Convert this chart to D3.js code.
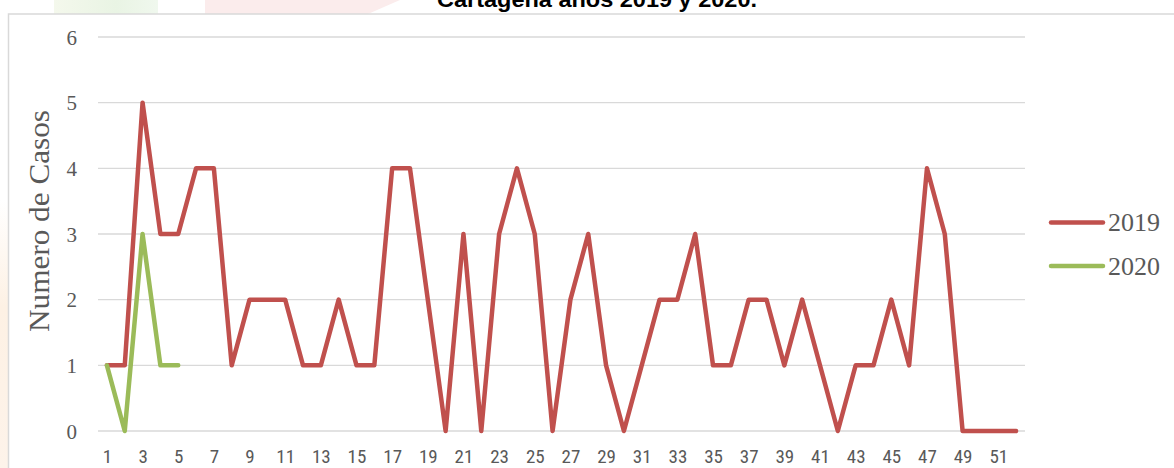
<!DOCTYPE html>
<html>
<head>
<meta charset="utf-8">
<script src="https://cdn.jsdelivr.net/npm/d3@7"></script>
<style>
  html, body { margin: 0; padding: 0; background: #ffffff; }
  svg { display: block; }
</style>
</head>
<body>
<div id="chart"></div>
<script>
// ---- data ----
const weeks = d3.range(1, 53);
const xTickLabels = d3.range(1, 52, 2);
const yTicks = [0, 1, 2, 3, 4, 5, 6];
const seriesNames = ["2019", "2020"];
const values2019 = [1, 1, 5, 3, 3, 4, 4, 1, 2, 2, 2, 1, 1, 2, 1, 1, 4, 4, 2, 0,
                    3, 0, 3, 4, 3, 0, 2, 3, 1, 0, 1, 2, 2, 3, 1, 1, 2, 2, 1, 2,
                    1, 0, 1, 1, 2, 1, 4, 3, 0, 0, 0, 0];
const values2020 = [1, 0, 3, 1, 1];
const colors = ["#c0504d", "#9bbb59"];
const titleText = "Cartagena años 2019 y 2020.";
const yTitle = "Numero de Casos";

const W = 1174, H = 468;
const svg = d3.select("#chart").append("svg").attr("width", W).attr("height", H);

// faint background watermark from the source document
const defs = svg.append("defs");
const gG = defs.append("linearGradient").attr("id", "gG");
gG.append("stop").attr("offset", "0").attr("stop-color", "#f4f8ec");
gG.append("stop").attr("offset", "0.6").attr("stop-color", "#e9f4e4");
gG.append("stop").attr("offset", "1").attr("stop-color", "#f0f8ee");
svg.append("rect").attr("x", 54).attr("y", 0).attr("width", 104).attr("height", 14).attr("fill", "url(#gG)");
svg.append("path").attr("d", "M205,0 L400,0 L368,14 L205,14 Z").attr("fill", "#fbecec");
const gO = defs.append("linearGradient").attr("id", "gO").attr("x1", 0).attr("y1", 0).attr("x2", 0).attr("y2", 1);
gO.append("stop").attr("offset", "0").attr("stop-color", "#ffffff");
gO.append("stop").attr("offset", "0.4").attr("stop-color", "#fdf1e4");
gO.append("stop").attr("offset", "1").attr("stop-color", "#fdf3ea");
svg.append("rect").attr("x", 0).attr("y", 200).attr("width", 8).attr("height", 268).attr("fill", "url(#gO)");

// chart frame
svg.append("rect").attr("x", 8.5).attr("y", 14).attr("width", 1200).attr("height", 500)
  .attr("fill", "#ffffff").attr("stroke", "#d9d9d9").attr("stroke-width", 1.5);

// title (clipped at top, as in the reference)
svg.append("text").attr("x", 597).attr("y", 7).attr("text-anchor", "middle")
  .attr("font-family", "'Liberation Sans', Arial, sans-serif").attr("font-weight", "bold")
  .attr("font-size", 22).attr("fill", "#000").attr("textLength", 320).attr("lengthAdjust", "spacingAndGlyphs")
  .text(titleText);

// scales
const x = d3.scalePoint().domain(weeks).range([98, 1025]).padding(0.5);
const y = d3.scaleLinear().domain([0, 6]).range([431, 37]);

// gridlines
svg.append("g").selectAll("line").data(yTicks).join("line")
  .attr("x1", 98).attr("x2", 1025)
  .attr("y1", d => y(d)).attr("y2", d => y(d))
  .attr("stroke", "#d9d9d9").attr("stroke-width", 1.3);

// y axis labels
const yAxis = d3.axisLeft(y).tickValues(yTicks).tickFormat(d3.format("d")).tickSize(0).tickPadding(0);
const gy = svg.append("g").attr("transform", "translate(77,0)").call(yAxis);
gy.select(".domain").remove();
gy.selectAll("text").attr("font-family", "'Liberation Serif', 'DejaVu Serif', serif")
  .attr("font-size", 21).attr("fill", "#595959").attr("dy", "0.34em");

// x axis labels
const xAxis = d3.axisBottom(x).tickValues(xTickLabels).tickSize(0).tickPadding(0);
const gx = svg.append("g").attr("transform", "translate(0,449)").call(xAxis);
gx.select(".domain").remove();
gx.selectAll("text").attr("font-family", "'Liberation Sans Narrow', 'Roboto Condensed', 'Liberation Sans', sans-serif")
  .attr("font-size", 19).attr("fill", "#595959").attr("dy", "0.72em");

// y title
svg.append("text").attr("transform", "translate(49,221) rotate(-90)").attr("text-anchor", "middle")
  .attr("font-family", "'Liberation Serif', 'DejaVu Serif', serif").attr("font-size", 29)
  .attr("fill", "#595959").attr("textLength", 222).attr("lengthAdjust", "spacingAndGlyphs")
  .text(yTitle);

// lines
const line = d3.line().x((d, i) => x(weeks[i])).y(d => y(d));
[values2019, values2020].forEach((vals, k) => {
  svg.append("path").datum(vals).attr("d", line)
    .attr("fill", "none").attr("stroke", colors[k]).attr("stroke-width", 4.5)
    .attr("stroke-linejoin", "round").attr("stroke-linecap", "round");
});

// legend
const legendY = [222.5, 266];
seriesNames.forEach((name, k) => {
  svg.append("line").attr("x1", 1051).attr("x2", 1103).attr("y1", legendY[k]).attr("y2", legendY[k])
    .attr("stroke", colors[k]).attr("stroke-width", 4.5).attr("stroke-linecap", "round");
  svg.append("text").attr("x", 1108).attr("y", legendY[k]).attr("dy", "0.34em")
    .attr("font-family", "'Liberation Serif', 'DejaVu Serif', serif").attr("font-size", 26)
    .attr("fill", "#595959").text(name);
});
</script>
</body>
</html>
